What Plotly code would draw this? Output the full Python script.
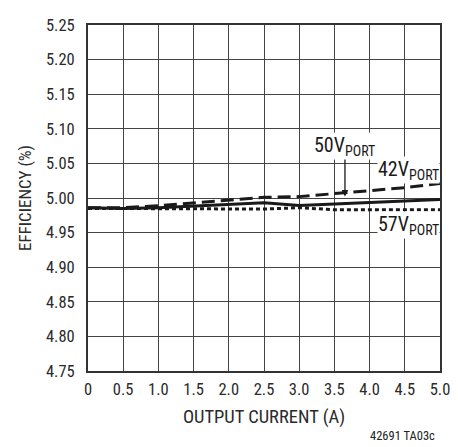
import plotly.graph_objects as go

current = [0, 0.5, 1.0, 1.5, 2.0, 2.5, 3.0, 3.5, 4.0, 4.5, 5.0]
eff_42v = [4.986, 4.986, 4.989, 4.993, 4.997, 5.001, 5.002, 5.006, 5.010, 5.015, 5.021]
eff_50v = [4.986, 4.985, 4.986, 4.988, 4.990, 4.993, 4.989, 4.991, 4.994, 4.996, 4.998]
eff_57v = [4.985, 4.985, 4.984, 4.984, 4.984, 4.984, 4.986, 4.983, 4.983, 4.983, 4.983]

x_ticks = [0, 0.5, 1.0, 1.5, 2.0, 2.5, 3.0, 3.5, 4.0, 4.5, 5.0]
x_labels = ["0", "0.5", "1.0", "1.5", "2.0", "2.5", "3.0", "3.5", "4.0", "4.5", "5.0"]
y_ticks = [4.75, 4.80, 4.85, 4.90, 4.95, 5.00, 5.05, 5.10, 5.15, 5.20, 5.25]
y_labels = ["%.2f" % v for v in y_ticks]

FONT = "Liberation Sans Narrow, Roboto Condensed, Arial Narrow, Liberation Sans, sans-serif"
INK = "#1a1a1a"

fig = go.Figure()
fig.add_trace(go.Scatter(x=current, y=eff_57v, mode="lines",
                         line=dict(color=INK, width=3, dash="4px,3px")))
fig.add_trace(go.Scatter(x=current, y=eff_42v, mode="lines",
                         line=dict(color=INK, width=3, dash="13px,6px")))
fig.add_trace(go.Scatter(x=current, y=eff_50v, mode="lines",
                         line=dict(color=INK, width=3)))

axis_common = dict(showgrid=True, gridcolor="#444", gridwidth=1,
                   showline=True, linecolor="#333", linewidth=2, mirror=True,
                   ticks="outside", tickcolor="rgba(0,0,0,0)",
                   zeroline=False, tickfont=dict(size=16.5, color="#2a2a2a"))

fig.update_layout(
    width=450, height=439,
    margin=dict(l=80, r=18, t=8, b=76),
    paper_bgcolor="white", plot_bgcolor="white",
    showlegend=False,
    font=dict(family=FONT, size=16, color="#2a2a2a"),
    xaxis=dict(range=[0, 5.0], tickvals=x_ticks, ticktext=x_labels, ticklen=2,
               title=dict(text="OUTPUT CURRENT (A)", font=dict(size=18.5), standoff=12),
               **axis_common),
    yaxis=dict(range=[4.75, 5.25], tickvals=y_ticks, ticktext=y_labels, ticklen=8,
               title=dict(text="EFFICIENCY (%)", font=dict(size=17), standoff=10),
               **axis_common),
)

fig.add_annotation(x=5.0, y=5.041, xref="x", yref="y", text="42V<sub>PORT</sub>",
                   showarrow=False, xanchor="right", yanchor="middle",
                   bgcolor="white", font=dict(size=20, color=INK), borderpad=0)
fig.add_annotation(x=5.0, y=4.961, xref="x", yref="y", text="57V<sub>PORT</sub>",
                   showarrow=False, xanchor="right", yanchor="middle",
                   bgcolor="white", font=dict(size=20, color=INK), borderpad=0)
fig.add_annotation(x=3.65, y=5.002, xref="x", yref="y", text="50V<sub>PORT</sub>",
                   showarrow=True, arrowhead=2, arrowsize=1, arrowwidth=1.3,
                   arrowcolor=INK, ax=0, ay=-37, yanchor="bottom",
                   bgcolor="white", font=dict(size=20, color=INK), borderpad=0)
fig.add_annotation(x=0.991, y=-0.186, xref="paper", yref="paper", text="42691 TA03c",
                   showarrow=False, xanchor="right", yanchor="middle",
                   font=dict(size=12.5, color="#222"))

fig.write_html("out.html")
